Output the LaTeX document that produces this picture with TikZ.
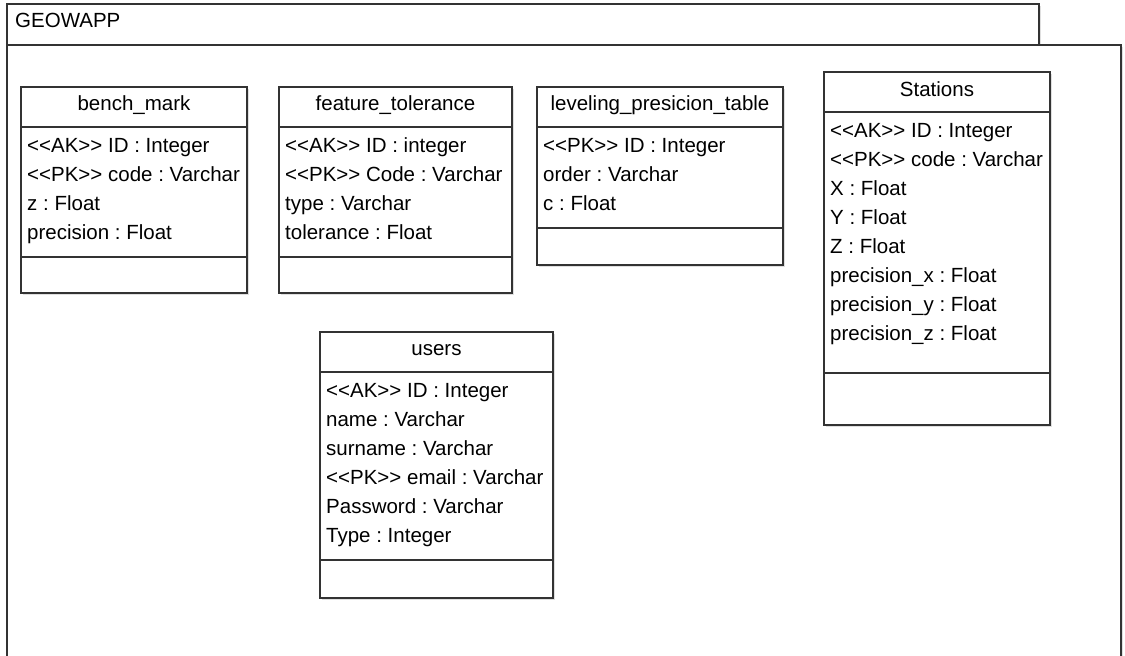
\documentclass[tikz,border=0pt]{standalone}
\usepackage{fontspec}
\setmainfont{Liberation Sans}
\usetikzlibrary{shadows}

\newcommand{\stereo}[1]{\textless\kern0pt\textless#1\textgreater\kern0pt\textgreater}

\tikzset{
	frame/.style={draw=black!80, line width=1.5pt, fill=white,
		drop shadow={shadow xshift=1.5pt, shadow yshift=-1.5pt, opacity=.25}},
	table/.style={frame, anchor=north west, inner sep=0pt, outer sep=0pt},
	sep/.style={draw=black!80, line width=1.5pt},
	title/.style={anchor=base, inner sep=0pt},
	attr/.style={anchor=base west, inner sep=0pt},
}

\begin{document}
\frenchspacing
\begin{tikzpicture}[x=1pt,y=-1pt,font=\fontsize{20.5}{24}\selectfont]
	\useasboundingbox (0,0) rectangle (1125,656);
	% package GEOWAPP
	\draw[frame] (7,4) rectangle (1039,45);
	\draw[frame] (7,45) rectangle (1121,690);
	\node[attr] (pkg) at (15,27) {GEOWAPP};

	% tables
	\node[table, minimum width=226pt, minimum height=206pt] (bench) at (21,87) {};
	\node[table, minimum width=233pt, minimum height=206pt] (feat) at (279,87) {};
	\node[table, minimum width=246pt, minimum height=178pt] (level) at (537,87) {};
	\node[table, minimum width=226pt, minimum height=353pt] (stat) at (824,72) {};
	\node[table, minimum width=233pt, minimum height=266pt] (users) at (320,332) {};

	\foreach \n/\s in {bench/170, feat/170, level/141, stat/301, users/228}
	{
		\draw[sep] ([yshift=-40pt]\n.north west) -- ([yshift=-40pt]\n.north east);
		\draw[sep] ([yshift=-\s pt]\n.north west) -- ([yshift=-\s pt]\n.north east);
	}

	% titles
	\node[title] (bench-t) at ([yshift=-23pt]bench.north) {bench\_mark};
	\node[title] (feat-t) at ([yshift=-23pt]feat.north) {feature\_tolerance};
	\node[title] (level-t) at ([yshift=-23pt]level.north) {leveling\_presicion\_table};
	\node[title] (stat-t) at ([yshift=-24pt]stat.north) {Stations};
	\node[title] (users-t) at ([yshift=-23pt]users.north) {users};

	% attributes
	\foreach \t [count=\i] in {{\stereo{AK} ID : Integer}, {\stereo{PK} code : Varchar},
		z : Float, precision : Float}
		\node[attr] (bench-\i) at ([xshift=6pt,yshift={-36pt-29pt*\i}]bench.north west) {\t};
	\foreach \t [count=\i] in {{\stereo{AK} ID : integer}, {\stereo{PK} Code : Varchar},
		type : Varchar, tolerance : Float}
		\node[attr] (feat-\i) at ([xshift=6pt,yshift={-36pt-29pt*\i}]feat.north west) {\t};
	\foreach \t [count=\i] in {{\stereo{PK} ID : Integer}, order : Varchar, c : Float}
		\node[attr] (level-\i) at ([xshift=6pt,yshift={-36pt-29pt*\i}]level.north west) {\t};
	\foreach \t [count=\i] in {{\stereo{AK} ID : Integer}, {\stereo{PK} code : Varchar},
		X : Float, Y : Float, Z : Float, precision\_x : Float, precision\_y : Float,
		precision\_z : Float}
		\node[attr] (stat-\i) at ([xshift=6pt,yshift={-36pt-29pt*\i}]stat.north west) {\t};
	\foreach \t [count=\i] in {{\stereo{AK} ID : Integer}, name : Varchar, surname : Varchar,
		{\stereo{PK} email : Varchar}, Password : Varchar, Type : Integer}
		\node[attr] (users-\i) at ([xshift=6pt,yshift={-36pt-29pt*\i}]users.north west) {\t};
\end{tikzpicture}
\end{document}
